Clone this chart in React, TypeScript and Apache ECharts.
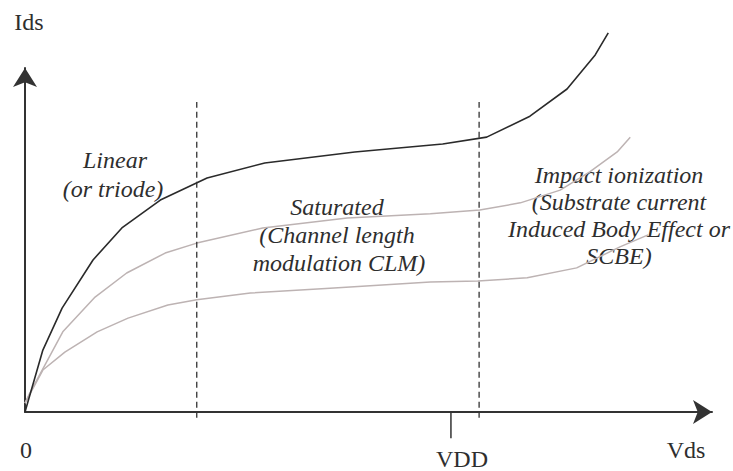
import React, { useEffect, useRef } from "react";
import * as echarts from "echarts";

// Vds (x) / Ids (y) in arbitrary units
const blackX = [0, 0.26, 0.54, 0.99, 1.41, 1.97, 2.65, 3.49, 4.8, 6.08, 6.72, 7.35, 7.89, 8.3, 8.49];
const blackY = [0, 1.8, 3.02, 4.42, 5.35, 6.16, 6.8, 7.24, 7.56, 7.79, 7.99, 8.6, 9.39, 10.38, 11.02];

const upperX = [0, 0.07, 0.55, 1.02, 1.48, 2.04, 2.5, 3.46, 4.69, 5.9, 6.62, 7.21, 7.79, 8.22, 8.62, 8.81];
const upperY = [0.26, 0.55, 2.33, 3.34, 4.04, 4.62, 4.91, 5.35, 5.64, 5.76, 5.87, 6.08, 6.45, 6.98, 7.56, 7.99];

const lowerX = [0, 0.26, 0.58, 1.05, 1.5, 2.08, 2.5, 3.28, 4.44, 5.9, 6.59, 7.31, 8.03, 8.66, 9.07];
const lowerY = [0.26, 1.22, 1.74, 2.33, 2.73, 3.11, 3.26, 3.46, 3.6, 3.78, 3.81, 3.9, 4.19, 4.8, 5.15];

const regionBoundaries = [2.5, 6.61];
const boundaryRange = [-0.17, 9.01];
const vddX = 6.2;
const vddTickRange = [-0.76, 0];

const zip = (xs: number[], ys: number[]) => xs.map((x, i) => [x, ys[i]]);

const FONT = "Liberation Serif";
const TEXT_COLOR = "#2e2e2e";

export default function App() {
  const ref = useRef<HTMLDivElement>(null);
  useEffect(() => {
    if (!ref.current) return;
    const chart = echarts.init(ref.current, undefined, { renderer: "svg" });
    const axisLine = {
      show: true,
      symbol: ["none", "arrow"],
      symbolSize: [18, 19],
      lineStyle: { color: "#333", width: 2 },
    };
    const label = (x: number, y: number, text: string, italic = true) => ({
      type: "text",
      x,
      y,
      silent: true,
      style: {
        text,
        fill: TEXT_COLOR,
        fontFamily: FONT,
        fontSize: 24,
        fontStyle: italic ? "italic" : "normal",
        fontWeight: "normal",
        textAlign: "center",
        textVerticalAlign: "middle",
      },
    });
    const seriesLine = (data: number[][], color: string, width: number, type: any = "solid") => ({
      type: "line",
      data,
      showSymbol: false,
      symbol: "none",
      clip: false,
      silent: true,
      z: 3,
      lineStyle: { color, width, type },
    });
    chart.setOption({
      animation: false,
      grid: { left: 25, right: 21, top: 68, bottom: 59 },
      xAxis: {
        type: "value",
        min: 0,
        max: 10,
        axisLine,
        axisTick: { show: false },
        axisLabel: { show: false },
        splitLine: { show: false },
      },
      yAxis: {
        type: "value",
        min: 0,
        max: 10,
        axisLine,
        axisTick: { show: false },
        axisLabel: { show: false },
        splitLine: { show: false },
      },
      series: [
        seriesLine(zip(upperX, upperY), "#bdb3b3", 1.5),
        seriesLine(zip(lowerX, lowerY), "#bdb3b3", 1.5),
        seriesLine(zip(blackX, blackY), "#2a2a2a", 1.6),
        ...regionBoundaries.map((b) =>
          seriesLine(boundaryRange.map((y) => [b, y]), "#333", 1.3, [6, 4])
        ),
        seriesLine(vddTickRange.map((y) => [vddX, y]), "#333", 1.5),
      ],
      graphic: [
        label(29, 22, "Ids", false),
        label(26, 450, "0", false),
        label(686, 450, "Vds", false),
        label(462, 459, "VDD", false),
        label(115, 160, "Linear"),
        label(113, 189, "(or triode)"),
        label(337, 207, "Saturated"),
        label(337, 235, "(Channel length"),
        label(339, 263, "modulation CLM)"),
        label(619, 175, "Impact ionization"),
        label(619, 202, "(Substrate current"),
        label(619, 229, "Induced Body Effect or"),
        label(619, 256, "SCBE)"),
      ],
    });
    return () => chart.dispose();
  }, []);
  return <div ref={ref} style={{ width: 733, height: 471, position: "absolute", left: 0, top: 0 }} />;
}
